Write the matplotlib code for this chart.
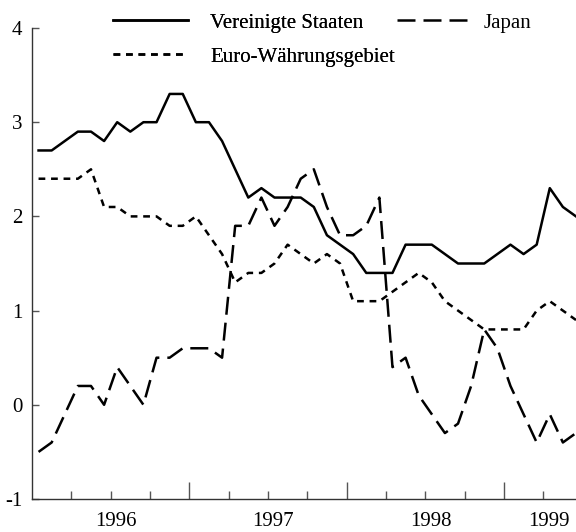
import matplotlib
matplotlib.use("Agg")
import matplotlib.pyplot as plt
import numpy as np

plt.rcParams["font.family"] = ["Liberation Serif", "DejaVu Serif"]
plt.rcParams["font.size"] = 15

# monthly values, Jan 1996 .. Jun 1999
us = [2.7, 2.7, 2.8, 2.9, 2.9, 2.8, 3.0, 2.9, 3.0, 3.0, 3.3, 3.3,
      3.0, 3.0, 2.8, 2.5, 2.2, 2.3, 2.2, 2.2, 2.2, 2.1, 1.8, 1.7,
      1.6, 1.4, 1.4, 1.4, 1.7, 1.7, 1.7, 1.6, 1.5, 1.5, 1.5, 1.6,
      1.7, 1.6, 1.7, 2.3, 2.1, 2.0]
japan = [-0.5, -0.4, -0.1, 0.2, 0.2, 0.0, 0.4, 0.2, 0.0, 0.5, 0.5, 0.6,
         0.6, 0.6, 0.5, 1.9, 1.9, 2.2, 1.9, 2.1, 2.4, 2.5, 2.1, 1.8,
         1.8, 1.9, 2.2, 0.4, 0.5, 0.1, -0.1, -0.3, -0.2, 0.2, 0.8, 0.6,
         0.2, -0.1, -0.4, -0.1, -0.4, -0.3]
euro = [2.4, 2.4, 2.4, 2.4, 2.5, 2.1, 2.1, 2.0, 2.0, 2.0, 1.9, 1.9,
        2.0, 1.8, 1.6, 1.3, 1.4, 1.4, 1.5, 1.7, 1.6, 1.5, 1.6, 1.5,
        1.1, 1.1, 1.1, 1.2, 1.3, 1.4, 1.3, 1.1, 1.0, 0.9, 0.8, 0.8,
        0.8, 0.8, 1.0, 1.1, 1.0, 0.9]
labels = ["Vereinigte Staaten", "Japan", "Euro-Währungsgebiet"]
years = ["1996", "1997", "1998", "1999"]
year_pos = [6.4, 18.4, 30.4, 39.4]
yticks = [-1, 0, 1, 2, 3, 4]

months = np.arange(len(us)) + 0.5

fig = plt.figure(figsize=(5.76, 5.32), dpi=100)
ax = fig.add_axes([32 / 576, 33 / 532, 544 / 576, 471 / 532])

lw = 1.8
l_us, = ax.plot(months, us, color="black", lw=lw, label=labels[0])
l_jp, = ax.plot(months, japan, color="black", lw=lw, dashes=(7.2, 3.2),
                label=labels[1])
l_eu, = ax.plot(months, euro, color="black", lw=lw, dashes=(2.7, 2.3),
                label=labels[2])

ax.set_xlim(0, 41.5)
ax.set_ylim(-1, 4)

for side in ["top", "right"]:
    ax.spines[side].set_visible(False)
for side in ["left", "bottom"]:
    ax.spines[side].set_linewidth(1.0)
    ax.spines[side].set_color("#333333")

ax.set_xticks([12, 24, 36])
ax.set_xticklabels([])
ax.set_xticks([3, 6, 9, 15, 18, 21, 27, 30, 33, 39], minor=True)
ax.tick_params(axis="x", which="major", direction="in", length=12,
               width=1.0, color="#555555")
ax.tick_params(axis="x", which="minor", direction="in", length=6,
               width=1.0, color="#555555")
for pos, lab in zip(year_pos, years):
    ax.text(pos, -0.058, lab, transform=ax.get_xaxis_transform(),
            ha="center", va="baseline", fontsize=15)

ax.set_yticks(yticks)
ax.set_yticklabels([str(v) for v in yticks])
ax.tick_params(axis="y", direction="in", length=5, width=1.0,
               color="#555555", pad=7)

leg_opts = dict(loc="upper left", frameon=False, borderpad=0,
                borderaxespad=0, handlelength=3.6, labelspacing=0.70,
                fontsize=15)
leg1 = fig.legend(handles=[l_us, l_eu], bbox_to_anchor=(113 / 576, 0.9756),
                  handletextpad=1.06, **leg_opts)
fig.add_artist(leg1)
fig.legend(handles=[l_jp], bbox_to_anchor=(397 / 576, 0.9756),
           handletextpad=0.58, **leg_opts)

fig.savefig("out.png", dpi=100, facecolor="white")
